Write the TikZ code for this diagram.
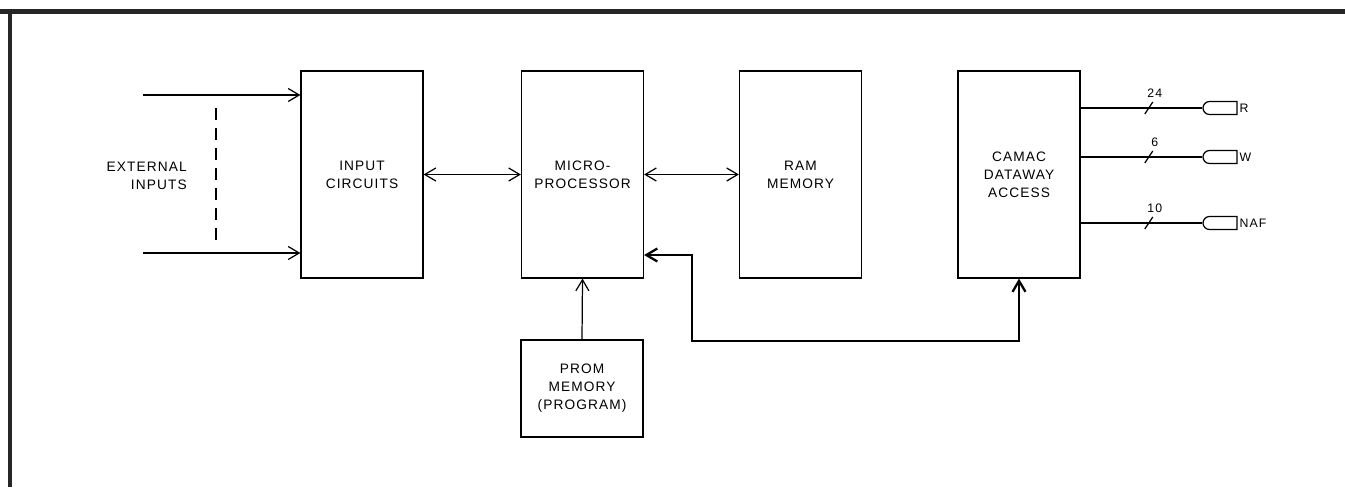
\documentclass[tikz,border=0pt]{standalone}
\usepackage{fontspec}
\setmainfont{Liberation Sans}[LetterSpace=8]
\usetikzlibrary{arrows.meta,shapes.misc,calc}

\tikzset{
  block/.style={draw, line width=0.7pt, minimum width=2.44cm, minimum height=4.14cm,
    align=center, inner sep=0pt, font=\fontsize{7.8}{10.2}\selectfont},
  flow/.style={line width=0.7pt, -{Straight Barb[length=2.2mm,width=2.6mm]}},
  both/.style={line width=0.7pt, {Straight Barb[length=2.2mm,width=2.6mm]}-{Straight Barb[length=2.2mm,width=2.6mm]}},
  bus/.style={line width=1.3pt, {Straight Barb[length=2.2mm,width=2.6mm]}-{Straight Barb[length=2.2mm,width=2.6mm]}},
  plug/.style={draw, rounded rectangle, rounded rectangle right arc=none,
    minimum width=0.68cm, minimum height=0.26cm, inner sep=0pt, line width=0.7pt},
  small/.style={inner sep=1pt, font=\fontsize{7}{7}\selectfont}
}

\begin{document}
\begin{tikzpicture}[x=0.02cm, y=-0.02cm]
    \useasboundingbox (0,0) rectangle (1345,487);
    % Coordinates
    \coordinate (in1) at (143,95);
    \coordinate (in2) at (143,253);
    \coordinate (dTop) at (216,108);
    \coordinate (dBot) at (216,240);
    \coordinate (fbA) at (692,255);
    \coordinate (fbB) at (692,341);

    % Blocks
    \node[block] (incirc) at (362,174.5) {INPUT\\CIRCUITS};
    \node[block] (micro) at (582.5,174.5) {MICRO-\\PROCESSOR};
    \node[block] (ram) at (800.5,174.5) {RAM\\MEMORY};
    \node[block] (camac) at (1019,174.5) {CAMAC\\DATAWAY\\ACCESS};
    \node[block, minimum height=1.94cm] (prom) at (582,388.5) {PROM\\MEMORY\\(PROGRAM)};
    \node[anchor=east, align=right, inner sep=0pt, font=\fontsize{7.8}{10.2}\selectfont]
      (extin) at (187,176) {EXTERNAL\\INPUTS};

    % Plugs
    \node[plug] (plugR) at (1220,108) {};
    \node[plug] (plugW) at (1220,157) {};
    \node[plug] (plugN) at (1220,223) {};
    \node[small, anchor=west] (labR) at (plugR.east) {R};
    \node[small, anchor=west] (labW) at (plugW.east) {W};
    \node[small, anchor=west] (labN) at (plugN.east) {NAF};

    % Drawing
    \draw[flow] (in1) -- (in1 -| incirc.west);
    \draw[flow] (in2) -- (in2 -| incirc.west);
    \draw[line width=0.7pt, dash pattern=on 0.24cm off 0.16cm] (dTop) -- (dBot);
    \draw[both] (incirc.east) -- (micro.west);
    \draw[both] (micro.east) -- (ram.west);
    \draw[flow] (prom.north) -- (micro.south);
    \draw[bus] (micro.east |- fbA) -- (fbA) -- (fbB) -- (fbB -| camac.south) -- (camac.south);

    \draw[line width=0.7pt] (plugR.west -| camac.east) -- coordinate[pos=0.56] (s24) (plugR.west);
    \draw[line width=0.7pt] (plugW.west -| camac.east) -- coordinate[pos=0.56] (s6) (plugW.west);
    \draw[line width=0.7pt] (plugN.west -| camac.east) -- coordinate[pos=0.56] (s10) (plugN.west);
    \foreach \s/\n in {s24/24, s6/6, s10/10} {
      \draw[line width=0.7pt] ($(\s)+(-4,6)$) -- ($(\s)+(4,-6)$);
      \node[small] (n\s) at ($(\s)+(6,-15)$) {\n};
    }

    % Page edge
    \draw[line width=0.1cm, black!85] (0,11) -- (1345,11);
    \draw[line width=0.08cm, black!85] (10,11) -- (10,487);
  \end{tikzpicture}
\end{document}
